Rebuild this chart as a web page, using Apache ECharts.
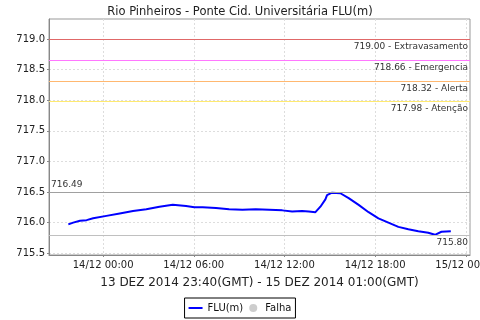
<!DOCTYPE html>
<html><head><meta charset="utf-8">
<script src="https://cdn.jsdelivr.net/npm/echarts@6/dist/echarts.min.js"></script>
<style>html,body{margin:0;padding:0;background:#fff}#c{width:480px;height:320px}</style>
</head><body><div id="c"></div>
<script>
// Hours counted from 13/12/2014 00:00
var hours = [21.70,22.02,22.47,22.91,23.34,24.22,25.10,25.98,26.86,27.73,28.61,29.49,30.04,30.59,31.47,32.34,33.22,34.10,34.98,35.86,36.51,37.17,37.61,38.05,38.38,38.71,38.82,39.15,39.70,40.25,40.91,41.57,42.22,42.88,43.54,44.20,44.86,45.52,45.96,46.39,47.01];
var levels = [715.97,716.00,716.03,716.04,716.07,716.11,716.15,716.19,716.22,716.26,716.29,716.27,716.25,716.25,716.24,716.22,716.21,716.22,716.21,716.20,716.18,716.19,716.18,716.17,716.26,716.38,716.45,716.49,716.48,716.40,716.29,716.17,716.07,716.00,715.93,715.89,715.86,715.835,715.80,715.85,715.86];
var thresholdValues = [719.00, 718.66, 718.32, 717.98];
var thresholdNames = ['Extravasamento', 'Emergencia', 'Alerta', 'Atenção'];
var maxValue = 716.49;
var minValue = 715.80;
var xTickHours = [24, 30, 36, 42, 48];
var yTicks = [715.5, 716.0, 716.5, 717.0, 717.5, 718.0, 718.5, 719.0];
var titleText = 'Rio Pinheiros - Ponte Cid. Universitária FLU(m)';
var xAxisName = '13 DEZ 2014 23:40(GMT) - 15 DEZ 2014 01:00(GMT)';
var seriesName = 'FLU(m)';
var failName = 'Falha';

var thresholdColors = ['#e06868', '#ff77ff', '#ffb870', '#ffea70'];
var font = 'DejaVu Sans';
function pad(n){return (n<10?'0':'')+n;}
function fmtHour(h){var d=13+Math.floor(h/24);var hh=Math.round(h-Math.floor(h/24)*24);return d+'/12 '+pad(hh)+':00';}

var data = hours.map(function(h,i){return [h, levels[i]];});
function refSeries(v, color, text, pos){
  return {type:'line', data:[], silent:true, z:1,
    markLine:{silent:true, symbol:['none','none'], animation:false,
      lineStyle:{color:color, width:1, type:'solid', opacity:1},
      label:{fontSize:9, color:'#333', fontFamily:font, distance:[2,3], position:pos, formatter:text},
      data:[{yAxis:v}]}};
}
var series = [];
thresholdValues.forEach(function(v,i){
  series.push(refSeries(v, thresholdColors[i], v.toFixed(2)+' - '+thresholdNames[i], 'insideEndBottom'));
});
series.push(refSeries(maxValue, '#a0a0a0', maxValue.toFixed(2), 'insideStartTop'));
series.push(refSeries(minValue, '#c0c0c0', minValue.toFixed(2), 'insideEndBottom'));
series.push({name:seriesName, type:'line', data:data, showSymbol:false, symbol:'none', color:'#0000ff', z:3,
     lineStyle:{color:'#0000ff', width:2}});
series.push({name:failName, type:'scatter', data:[], color:'#c0c0c0'});

var chart = echarts.init(document.getElementById('c'), null, {renderer:'canvas'});
chart.setOption({
  animation:false,
  textStyle:{fontFamily:font},
  title:{text:titleText, left:'center', top:1, textStyle:{fontSize:11.5, fontWeight:'normal', color:'#222', fontFamily:font}},
  grid:{left:49, right:10, top:19, bottom:65, show:true, borderColor:'#999', borderWidth:1, outerBoundsMode:'none', containLabel:false},
  legend:{bottom:2, left:'center', borderColor:'#000', borderWidth:1, padding:[5,4], itemGap:6, itemWidth:14, itemHeight:8,
    textStyle:{fontSize:10, color:'#111', fontFamily:font},
    data:[{name:seriesName, icon:'path://M0,0L14,0L14,2L0,2Z'}, {name:failName, icon:'circle'}]},
  xAxis:{type:'value', min:20.42, max:48.28,
    name:xAxisName, nameLocation:'middle', nameGap:22, nameTextStyle:{fontSize:12, color:'#222', fontFamily:font},
    axisLine:{lineStyle:{color:'#888'}},
    axisTick:{show:true, length:2, customValues:xTickHours, lineStyle:{color:'#888'}},
    axisLabel:{customValues:xTickHours, formatter:fmtHour, fontSize:10, color:'#222', margin:5, hideOverlap:false},
    splitLine:{show:true, lineStyle:{color:'#ddd', type:[2,2]}}},
  yAxis:{type:'value', min:715.47, max:719.33,
    axisLine:{show:true, lineStyle:{color:'#888'}},
    axisTick:{show:true, length:2, customValues:yTicks, lineStyle:{color:'#888'}},
    axisLabel:{customValues:yTicks, formatter:function(v){return v.toFixed(1);}, fontSize:10, color:'#222', margin:4},
    splitLine:{show:true, lineStyle:{color:'#ddd', type:[2,2]}}},
  series:series
});
</script></body></html>
